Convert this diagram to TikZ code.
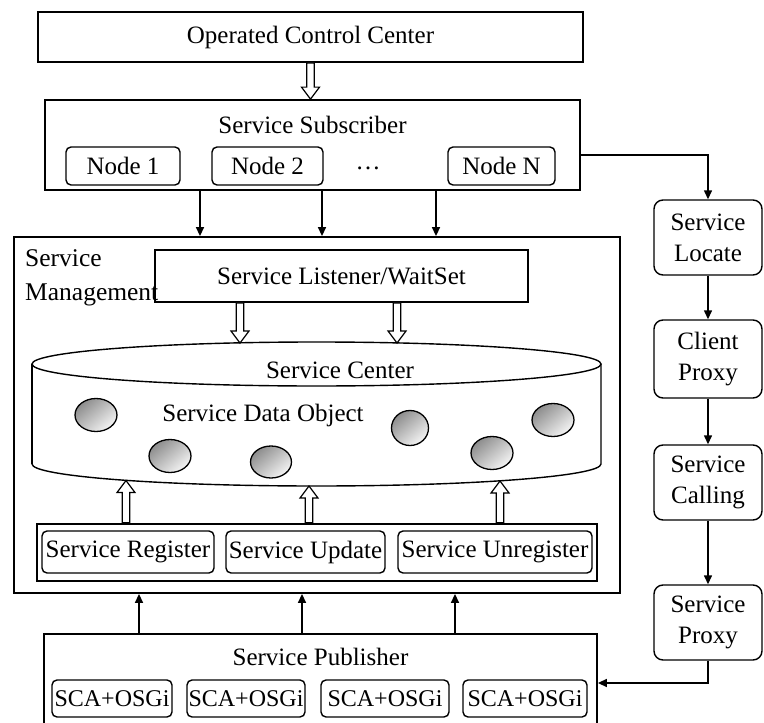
\documentclass[tikz,border=0pt]{standalone}
\usepackage{fontspec}
\setmainfont{Liberation Serif}
\usetikzlibrary{arrows.meta,shapes.geometric,calc}

\begin{document}
\begin{tikzpicture}[x=1pt,y=-1pt,
  font=\fontsize{25}{31}\selectfont,
  txt/.style={inner sep=0pt},
  box/.style={draw, line width=1.8pt, inner sep=0pt, align=center},
  rbox/.style={draw, line width=1.4pt, rounded corners=5pt, inner sep=0pt, align=center, minimum height=38pt},
  sidebox/.style={draw, line width=1.4pt, rounded corners=9pt, inner sep=0pt, align=center,
                  minimum width=108pt, minimum height=75pt},
  arr/.style={line width=1.4pt, -{Triangle[length=9pt,width=8pt]}},
  blob/.style={ellipse, draw, line width=1.3pt, inner sep=0pt,
               top color=gray!90, bottom color=gray!8, shading angle=40},
  hollowdown/.style={draw, fill=white, line width=1.2pt,
    to path={let \p1=(\tikztostart), \p2=(\tikztotarget) in
      (\x1-3.8pt,\y1) -- (\x1-3.8pt,\y2+12pt) -- (\x1-9pt,\y2+12pt) -- (\x1,\y2)
      -- (\x1+9pt,\y2+12pt) -- (\x1+3.8pt,\y2+12pt) -- (\x1+3.8pt,\y1) -- cycle}},
  hollowup/.style={draw, fill=white, line width=1.2pt,
    to path={let \p1=(\tikztostart), \p2=(\tikztotarget) in
      (\x1-3.8pt,\y1) -- (\x1-3.8pt,\y2-12pt) -- (\x1-9pt,\y2-12pt) -- (\x1,\y2)
      -- (\x1+9pt,\y2-12pt) -- (\x1+3.8pt,\y2-12pt) -- (\x1+3.8pt,\y1) -- cycle}},
]
\useasboundingbox (0,0) rectangle (764,723);

% top control centre
\node[box, minimum width=545pt, minimum height=50pt] (occ) at (310.5,37) {Operated Control Center};

% subscriber with its nodes
\node[box, minimum width=535pt, minimum height=90pt] (sub) at (312.5,145) {};
\node[txt] (subt) at (312.5,125) {Service Subscriber};
\node[rbox, minimum width=114pt] (n1) at (123,166) {Node 1};
\node[rbox, minimum width=111pt] (n2) at (267.5,166) {Node 2};
\node[txt] (ndots) at (368,168) {\ldots};
\node[rbox, minimum width=107pt] (nn) at (501.5,166) {Node N};

% service management block
\node[box, minimum width=606pt, minimum height=356pt] (mgmt) at (317,415) {};
\node[box, minimum width=373pt, minimum height=52pt] (lis) at (341.5,276) {Service Listener/WaitSet};
\node[txt, align=left, anchor=north west, font=\fontsize{25.5}{34}\selectfont] (mlab) at (25,249) {Service\\Management};

% service centre cylinder
\draw[line width=1.4pt] (32,464) arc[start angle=180, end angle=360, x radius=284.5pt, y radius=22pt]
      -- (601,364);
\draw[line width=1.4pt] (32,364) -- (32,464);
\draw[line width=1.4pt] (316.5,364) ellipse[x radius=284.5pt, y radius=22pt];
\node[txt] (sct) at (340,370) {Service Center};
\node[txt] (sdo) at (263,415) {Service Data Object};
\coordinate (sctop1) at (240,343);
\coordinate (sctop2) at (397,343);
\coordinate (scbot1) at (126,480.5);
\coordinate (scbot2) at (309,486);
\coordinate (scbot3) at (500,481);

\node[blob, minimum width=42pt, minimum height=33pt] (o1) at (96,415) {};
\node[blob, minimum width=42pt, minimum height=33pt] (o2) at (170,456) {};
\node[blob, minimum width=41pt, minimum height=32pt] (o3) at (271,462) {};
\node[blob, minimum width=37pt, minimum height=35pt] (o4) at (410,428) {};
\node[blob, minimum width=42pt, minimum height=33pt] (o5) at (492,453) {};
\node[blob, minimum width=42pt, minimum height=33pt] (o6) at (553,420) {};

% register / update / unregister
\node[draw, line width=2.4pt, inner sep=0pt, minimum width=560pt, minimum height=57pt] (reg) at (317,552.5) {};
\node[rbox, minimum width=172pt, minimum height=42pt] (sreg) at (128,552) {Service Register};
\node[rbox, minimum width=159pt, minimum height=42pt] (supd) at (305.5,552) {Service Update};
\node[rbox, minimum width=194pt, minimum height=42pt] (sunr) at (495,552) {Service Unregister};

% publisher
\node[box, minimum width=553pt, minimum height=92pt] (pub) at (320.5,680) {};
\node[txt] (pubt) at (320.5,657) {Service Publisher};
\node[rbox, minimum width=120pt, minimum height=37pt, font=\fontsize{24}{30}\selectfont] (p1) at (112,698.5) {SCA+OSGi};
\node[rbox, minimum width=118pt, minimum height=37pt, font=\fontsize{24}{30}\selectfont] (p2) at (246,698.5) {SCA+OSGi};
\node[rbox, minimum width=128pt, minimum height=37pt, font=\fontsize{24}{30}\selectfont] (p3) at (385,698.5) {SCA+OSGi};
\node[rbox, minimum width=124pt, minimum height=37pt, font=\fontsize{24}{30}\selectfont] (p4) at (525,698.5) {SCA+OSGi};

% right-hand call chain
\node[sidebox] (loc) at (708,237.5) {Service\\Locate};
\node[sidebox, minimum height=78pt] (cli) at (708,359) {Client\\Proxy};
\node[sidebox] (cal) at (708,482.5) {Service\\Calling};
\node[sidebox] (prx) at (708,622.5) {Service\\Proxy};

% connectors
\draw[hollowdown] (occ.south) to (occ.south |- sub.north);
\draw[hollowdown] ([xshift=-101.5pt]lis.south) to (sctop1);
\draw[hollowdown] ([xshift=55.5pt]lis.south) to (sctop2);
\draw[hollowup] ([xshift=-191pt]reg.north) to (scbot1);
\draw[hollowup] ([xshift=-8pt]reg.north) to (scbot2);
\draw[hollowup] ([xshift=183pt]reg.north) to (scbot3);

\foreach \dx in {-112.5,9.5,123.5}
  \draw[arr] ([xshift=\dx pt]sub.south) -- ([xshift=\dx pt]sub.south |- mgmt.north);
\foreach \dx in {-181.5,-18.5,134.5}
  \draw[arr] ([xshift=\dx pt]pub.north) -- ([xshift=\dx pt]pub.north |- mgmt.south);

\draw[arr] ([yshift=-10pt]sub.east) -| (loc.north);
\draw[arr] (loc) -- (cli);
\draw[arr] (cli) -- (cal);
\draw[arr] (cal) -- (prx);
\draw[arr] (prx.south) |- ([yshift=-3pt]pub.east);
\end{tikzpicture}
\end{document}
